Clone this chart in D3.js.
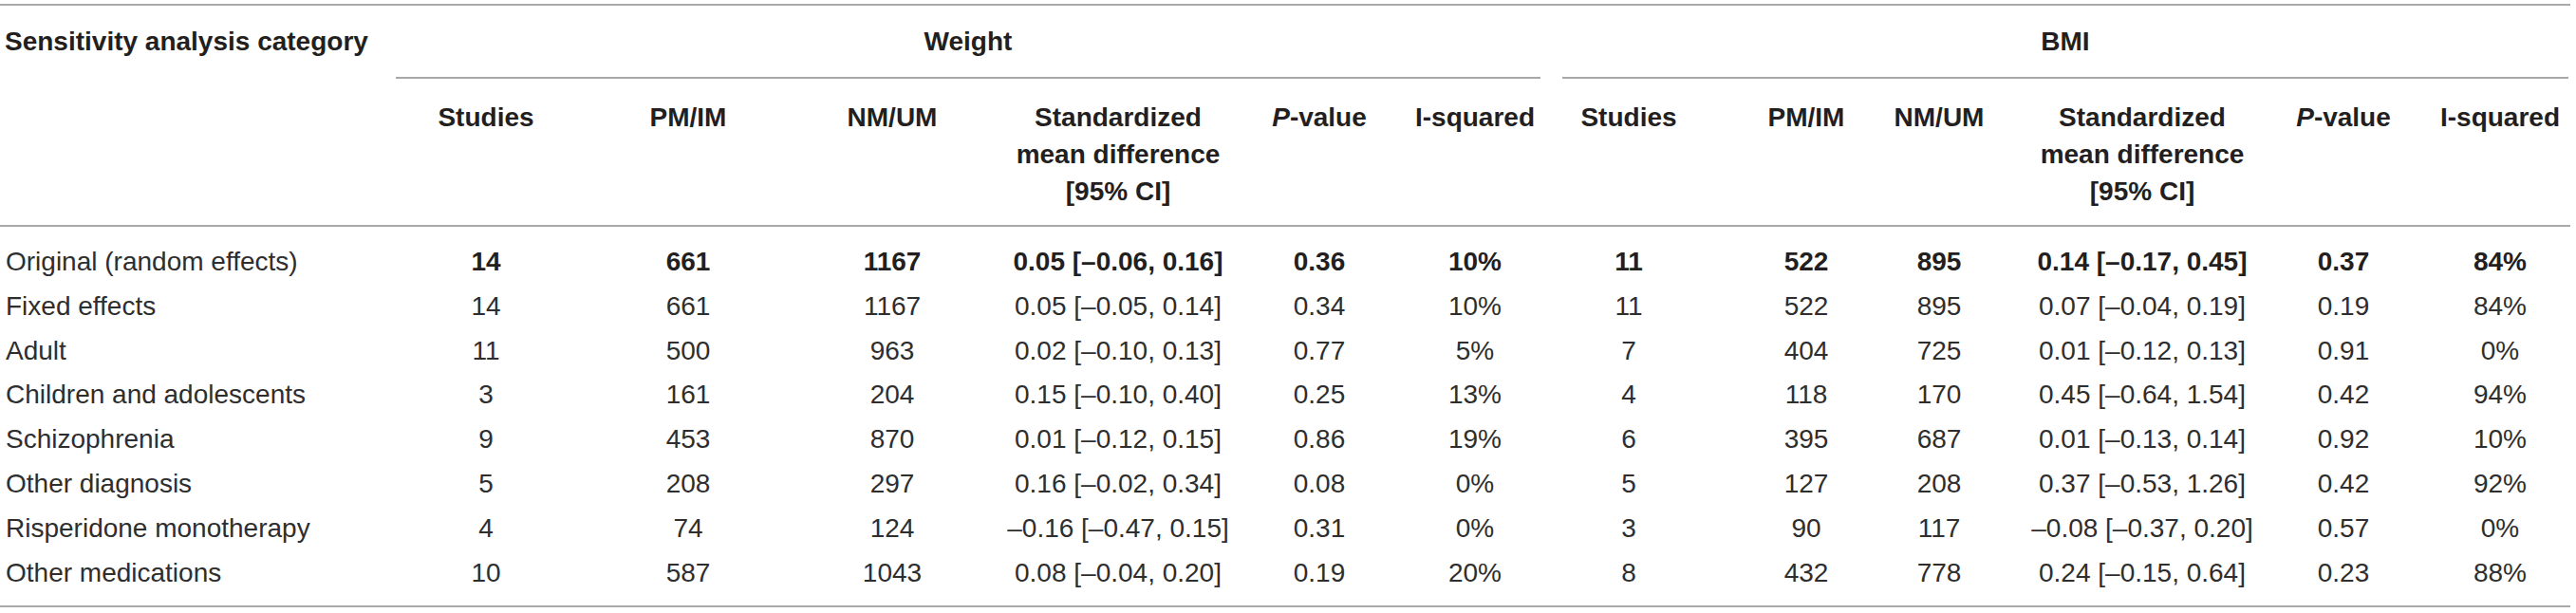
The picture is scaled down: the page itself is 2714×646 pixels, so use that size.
<!DOCTYPE html>
<html>
<head>
<meta charset="utf-8">
<script src="https://cdn.jsdelivr.net/npm/d3@7"></script>
<style>
  body { margin: 0; background: #fff; }
  svg text { font-family: "Liberation Sans", Arial, sans-serif; font-size: 28px; fill: #231f20; }
</style>
</head>
<body>
<div id="table"></div>
<script>
// table data
const categories = ["Original (random effects)", "Fixed effects", "Adult", "Children and adolescents",
  "Schizophrenia", "Other diagnosis", "Risperidone monotherapy", "Other medications"];

const weightStudies = [14, 14, 11, 3, 9, 5, 4, 10];
const weightPM = [661, 661, 500, 161, 453, 208, 74, 587];
const weightNM = [1167, 1167, 963, 204, 870, 297, 124, 1043];
const weightSmd = [0.05, 0.05, 0.02, 0.15, 0.01, 0.16, -0.16, 0.08];
const weightLow = [-0.06, -0.05, -0.10, -0.10, -0.12, -0.02, -0.47, -0.04];
const weightHigh = [0.16, 0.14, 0.13, 0.40, 0.15, 0.34, 0.15, 0.20];
const weightP = [0.36, 0.34, 0.77, 0.25, 0.86, 0.08, 0.31, 0.19];
const weightI2 = [10, 10, 5, 13, 19, 0, 0, 20];

const bmiStudies = [11, 11, 7, 4, 6, 5, 3, 8];
const bmiPM = [522, 522, 404, 118, 395, 127, 90, 432];
const bmiNM = [895, 895, 725, 170, 687, 208, 117, 778];
const bmiSmd = [0.14, 0.07, 0.01, 0.45, 0.01, 0.37, -0.08, 0.24];
const bmiLow = [-0.17, -0.04, -0.12, -0.64, -0.13, -0.53, -0.37, -0.15];
const bmiHigh = [0.45, 0.19, 0.13, 1.54, 0.14, 1.26, 0.20, 0.64];
const bmiP = [0.37, 0.19, 0.91, 0.42, 0.92, 0.42, 0.57, 0.23];
const bmiI2 = [84, 84, 0, 94, 10, 92, 0, 88];

const groups = ["Weight", "BMI"];
const colHeaders = ["Studies", "PM/IM", "NM/UM", "Standardized|mean difference|[95% CI]", "P-value", "I-squared"];

const width = 2714, height = 646;

const svg = d3.select("#table").append("svg")
    .attr("width", width)
    .attr("height", height);

// column centres (12 data columns)
const colX = [512, 725, 940, 1178, 1390, 1554, 1716, 1903, 2043, 2257, 2469, 2634];
const groupSpan = [[417, 1623], [1646, 2706]];

// row positions
const y = d3.scalePoint()
    .domain(d3.range(categories.length))
    .range([275, 603]);

const f2 = d3.format(".2f");
const num = v => f2(v).replace("−", "–").replace("-", "–");
const ci = (m, lo, hi) => `${num(m)} [${num(lo)}, ${num(hi)}]`;

// build rows
const rows = categories.map((c, i) => [
  weightStudies[i], weightPM[i], weightNM[i], ci(weightSmd[i], weightLow[i], weightHigh[i]), num(weightP[i]), weightI2[i] + "%",
  bmiStudies[i], bmiPM[i], bmiNM[i], ci(bmiSmd[i], bmiLow[i], bmiHigh[i]), num(bmiP[i]), bmiI2[i] + "%"
]);

// rules
const rule = (x1, x2, yy) => svg.append("line")
    .attr("x1", x1).attr("x2", x2).attr("y1", yy).attr("y2", yy)
    .attr("stroke", "#8c8c8c").attr("stroke-width", 1.6);

rule(0, 2708, 5);
groupSpan.forEach(s => rule(s[0], s[1], 82));
rule(0, 2708, 238);
rule(0, 2708, 639);

// top header
svg.append("text")
    .attr("x", 5).attr("y", 43).attr("dy", "0.35em")
    .attr("font-weight", "bold")
    .text("Sensitivity analysis category");

svg.selectAll(".grp")
  .data(groups)
  .join("text")
    .attr("class", "grp")
    .attr("x", (d, i) => (groupSpan[i][0] + groupSpan[i][1]) / 2)
    .attr("y", 43).attr("dy", "0.35em")
    .attr("text-anchor", "middle")
    .attr("font-weight", "bold")
    .text(d => d);

// column headers
const hdr = svg.selectAll(".hdr")
  .data(colX)
  .join("text")
    .attr("class", "hdr")
    .attr("text-anchor", "middle")
    .attr("font-weight", "bold");

hdr.each(function(x, i) {
  const t = d3.select(this);
  const label = colHeaders[i % 6];
  label.split("|").forEach((line, k) => {
    const ts = t.append("tspan")
        .attr("x", x)
        .attr("y", 123 + k * 39)
        .attr("dy", "0.35em");
    if (line.startsWith("P-")) {
      ts.append("tspan").attr("font-style", "italic").text("P");
      ts.append("tspan").text(line.slice(1));
    } else {
      ts.text(line);
    }
  });
});

// body
const row = svg.selectAll(".row")
  .data(rows)
  .join("g")
    .attr("class", "row")
    .attr("transform", (d, i) => `translate(0,${y(i)})`);

row.append("text")
    .attr("x", 6).attr("dy", "0.35em")
    .style("fill", "#2e2e2e")
    .text((d, i) => categories[i]);

// first row (original analysis) values are set in bold
row.each(function(d, i) {
  d3.select(this).selectAll(".cell")
    .data(d)
    .join("text")
      .attr("class", "cell")
      .attr("x", (v, j) => colX[j])
      .attr("dy", "0.35em")
      .attr("text-anchor", "middle")
      .attr("font-weight", i === 0 ? "bold" : null)
      .style("fill", i === 0 ? "#231f20" : "#2e2e2e")
      .text(v => v);
});
</script>
</body>
</html>
